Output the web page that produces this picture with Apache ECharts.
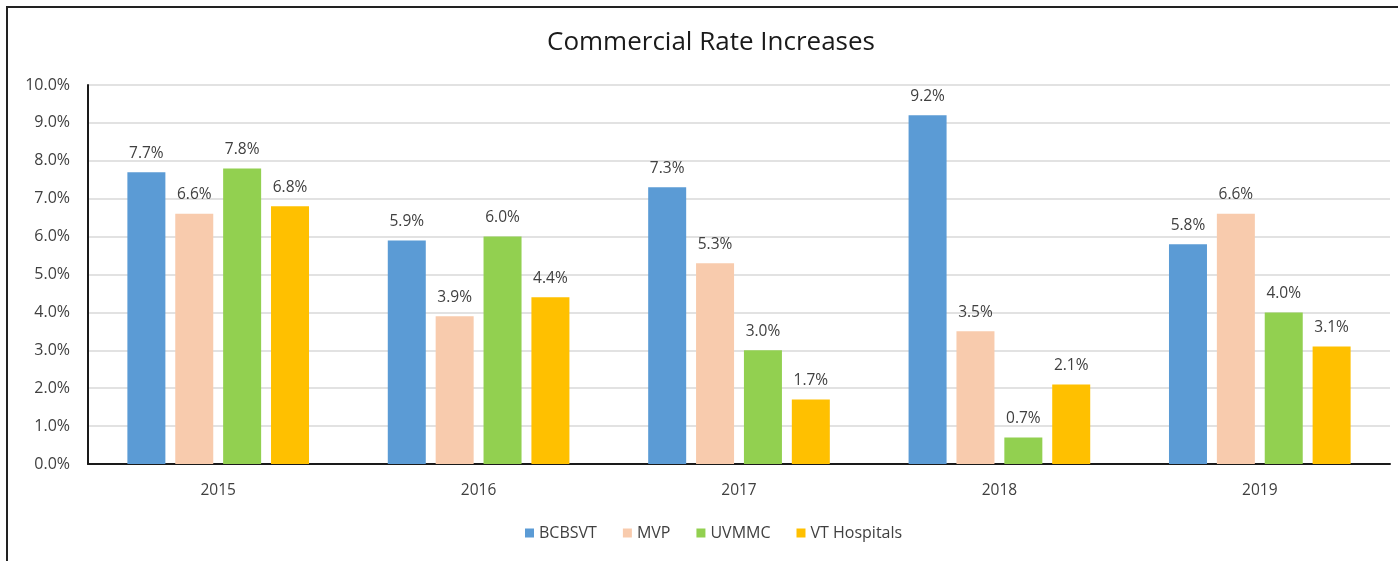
<!DOCTYPE html>
<html>
<head>
<meta charset="utf-8">
<script src="https://cdn.jsdelivr.net/npm/echarts@6/dist/echarts.min.js"></script>
<style>
  html, body { margin: 0; padding: 0; background: #fff; }
  #frame { position: absolute; left: 6px; top: 6px; width: 1392px; height: 555px;
           border-left: 2px solid #222; border-top: 2px solid #222; box-sizing: border-box; }
  #chart { position: absolute; left: 0; top: 0; width: 1398px; height: 561px; }
</style>
</head>
<body>
<div id="frame"></div>
<div id="chart"></div>
<script>
const years = ['2015', '2016', '2017', '2018', '2019']
const bcbsvt = [7.7, 5.9, 7.3, 9.2, 5.8]
const mvp = [6.6, 3.9, 5.3, 3.5, 6.6]
const uvmmc = [7.8, 6.0, 3.0, 0.7, 4.0]
const vtHospitals = [6.8, 4.4, 1.7, 2.1, 3.1]

const font = '"Open Sans", sans-serif'
const textColor = '#404040'

const makeSeries = (name, data, color) => ({
  name,
  type: 'bar',
  data,
  barWidth: 38,
  barGap: '26%',
  itemStyle: { color },
  label: {
    show: true,
    position: 'top',
    distance: 11,
    fontFamily: font,
    fontSize: 15.5,
    color: textColor,
    formatter: p => p.value.toFixed(1) + '%'
  }
})

const chart = echarts.init(document.getElementById('chart'))
chart.setOption({
  animation: false,
  title: {
    text: 'Commercial Rate Increases',
    left: 542,
    top: 25,
    textStyle: { fontFamily: font, fontSize: 26, fontWeight: 'normal', color: '#1a1a1a' }
  },
  legend: {
    bottom: 15,
    left: 520,
    itemWidth: 9,
    itemHeight: 9,
    itemGap: 26,
    icon: 'rect',
    textStyle: { fontFamily: font, fontSize: 16, color: textColor }
  },
  grid: { left: 88, right: 8, top: 85, bottom: 97 },
  xAxis: {
    type: 'category',
    data: years,
    axisLine: { lineStyle: { color: '#1a1a1a', width: 2 } },
    axisTick: { show: false },
    axisLabel: { fontFamily: font, fontSize: 15.5, color: textColor, margin: 19 }
  },
  yAxis: {
    type: 'value',
    min: 0,
    max: 10,
    interval: 1,
    axisLine: { show: true, lineStyle: { color: '#1a1a1a', width: 2 } },
    axisTick: { show: false },
    splitLine: { lineStyle: { color: '#d9d9d9', width: 1.5 } },
    axisLabel: {
      fontFamily: font, fontSize: 16, color: textColor, margin: 18,
      formatter: v => v.toFixed(1) + '%'
    }
  },
  series: [
    makeSeries('BCBSVT', bcbsvt, '#5b9bd5'),
    makeSeries('MVP', mvp, '#f8cbad'),
    makeSeries('UVMMC', uvmmc, '#92d050'),
    makeSeries('VT Hospitals', vtHospitals, '#ffc000')
  ]
})
</script>
</body>
</html>
